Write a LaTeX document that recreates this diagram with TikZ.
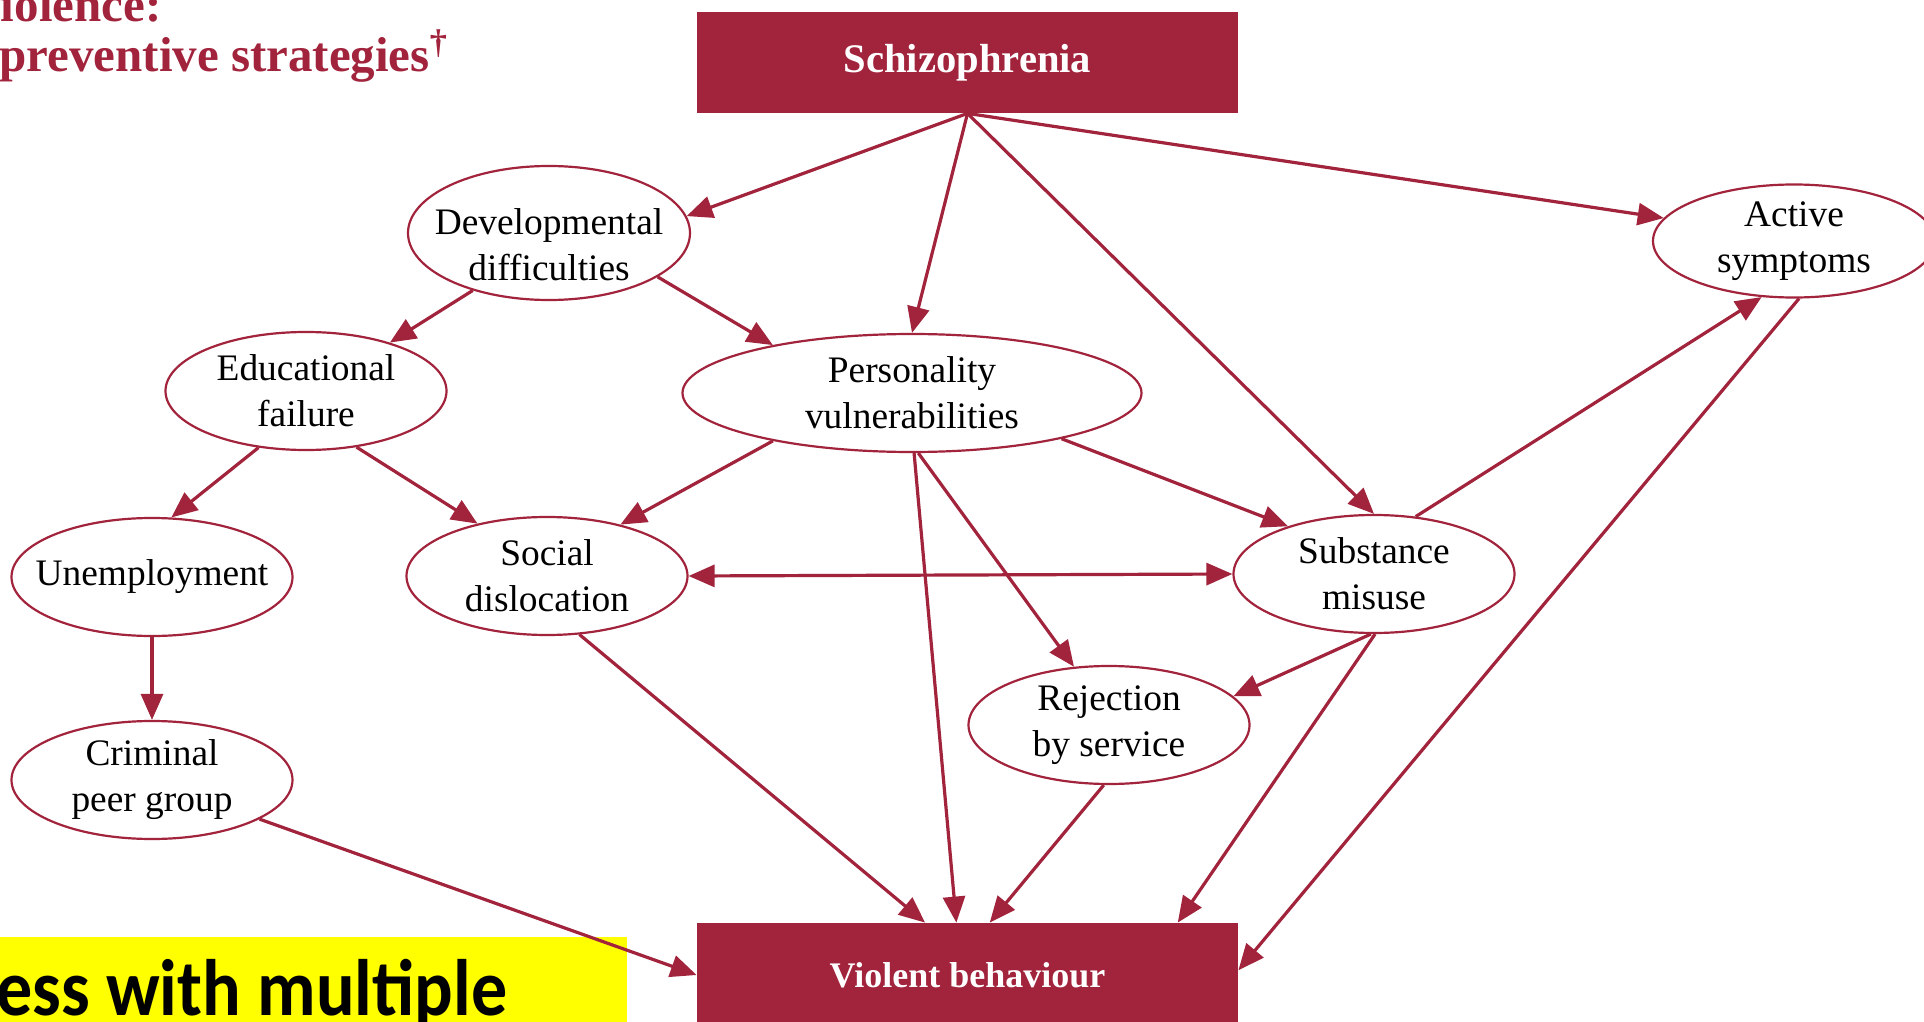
\documentclass[tikz,border=0pt]{standalone}
\usepackage{fontspec}
\setmainfont{Liberation Serif}
\newfontfamily\carlito{Carlito}[FakeStretch=0.9]
\usetikzlibrary{shapes.geometric,arrows.meta}
\definecolor{wine}{RGB}{162,35,60}
\definecolor{hl}{RGB}{255,255,0}
\begin{document}
\begin{tikzpicture}[x=0.5pt,y=-0.5pt,
  oval/.style={ellipse,draw=wine,line width=1.1pt,inner xsep=-14pt,inner ysep=-5pt,minimum width=140.5pt,minimum height=59pt,align=center,text=black,font=\fontsize{18.7}{23}\selectfont},
  redbox/.style={rectangle,fill=wine,inner sep=0pt,minimum width=270.5pt,text=white,font=\bfseries\fontsize{20.3}{24}\selectfont},
  arr/.style={draw=wine,line width=1.6pt,-{Triangle[length=13pt,width=11pt]}},
  arrboth/.style={draw=wine,line width=1.6pt,{Triangle[length=13pt,width=11pt]}-{Triangle[length=13pt,width=11pt]}},
  titletext/.style={anchor=base west,inner sep=0pt,text=wine,font=\bfseries\fontsize{24.5}{25}\selectfont},
]
\useasboundingbox (0,0) rectangle (1924,1022);
\clip (0,0) rectangle (1924,1022);

% title
\node (t1) [titletext] at (-24,22) {violence:};
\node (t2) [titletext] at (-1,72) {preventive strategies\textsuperscript{\textdagger}};

% boxes
\node (schiz) [redbox,minimum height=50.5pt] at (967.5,62.5) {Schizophrenia};
\node (violent) [redbox,minimum height=52pt,font=\bfseries\fontsize{18}{20}\selectfont] at (967.5,975) {Violent behaviour};

% ellipses
\node (dev) [oval,minimum width=141pt,minimum height=67pt] at (549,233) {\rule{0pt}{25pt}Developmental\\difficulties};
\node (edu) [oval] at (306,391) {Educational\\failure};
\node (pers) [oval,minimum width=229.5pt] at (912,393) {Personality\\vulnerabilities};
\node (unemp) [oval] at (152,577) {Unemployment};
\node (social) [oval] at (547,576) {Social\\dislocation};
\node (subst) [oval] at (1374,574) {Substance\\misuse};
\node (rej) [oval] at (1109,725) {Rejection\\by service};
\node (crim) [oval] at (152,780) {Criminal\\peer group};
\node (active) [oval,minimum width=141pt,minimum height=56.5pt] at (1794,241) {Active\\symptoms};

% highlight box
\node (hlbox) [fill=hl,inner sep=0pt,minimum width=313.5pt,minimum height=50pt,anchor=north west] at (0,937) {};
\node (hltext) [anchor=base west,inner sep=0pt,text=black,font=\carlito\bfseries\fontsize{40}{42}\selectfont] at (-4,1015) {ess with multiple};

% connectors
\draw[arr] (schiz.south) -- (dev.7);
\draw[arr] (schiz.south) -- (pers.north);
\draw[arr] (schiz.south) -- (subst.north);
\draw[arr] (schiz.south) -- (active.170);
\draw[arr] (dev.217) -- (edu.30);
\draw[arr] (dev.338) -- (pers.161);
\draw[arr] (edu.230) -- (unemp.72);
\draw[arr] (edu.312) -- (social.143);
\draw[arr] (pers.199) -- (social.35);
\draw[arr] (pers.343) -- (subst.151);
\draw[arr] (pers.276) -- (rej.121);
\draw[arr] (pers.272) -- (violent.102);
\draw[arrboth] (social.east) -- (subst.west);
\draw[arr] (unemp.south) -- (crim.north);
\draw[arr] (subst.54) -- (active.240);
\draw[arr] (active.275) -- (violent.1);
\draw[arr] (subst.267) -- (rej.13);
\draw[arr] (subst.271) -- (violent.14);
\draw[arr] (rej.265) -- (violent.67);
\draw[arr] (social.299) -- (violent.129);
\draw[arr] (crim.340) -- (violent.west);
\end{tikzpicture}
\end{document}
